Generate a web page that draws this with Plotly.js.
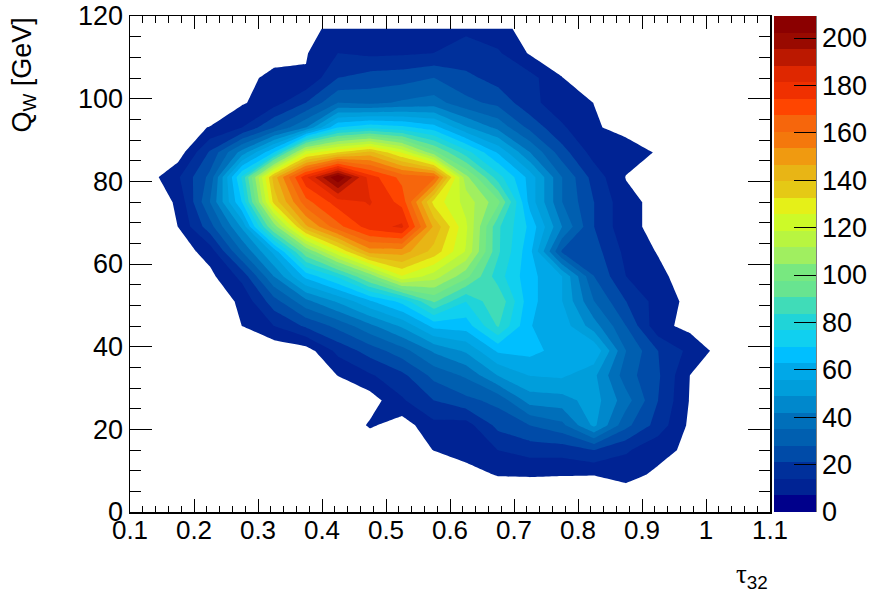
<!DOCTYPE html>
<html>
<head>
<meta charset="utf-8">
<script src="https://cdn.plot.ly/plotly-3.0.1.min.js"></script>
<style>html,body{margin:0;padding:0;background:#fff}</style>
</head>
<body>
<div id="chart" style="width:871px;height:600px"></div>
<script>
// Bin centres of the tau32 axis and the Q_W axis
var tau32 = [0.125,0.175,0.225,0.275,0.325,0.375,0.425,0.475,0.525,0.575,0.625,0.675,0.725,0.775,0.825,0.875,0.925,0.975,1.025,1.075];
var qW = [3,9,15,21,27,33,39,45,51,57,63,69,75,81,87,93,99,105,111,117];

// Counts per Q_W row
var r117 = [0,0,0,0,0,5,9,10,10,11,13,9,4.5,0,0,0,0,0,0,0];
var r111 = [0,0,0,0,2,6.5,14,12.5,13,14,16,15,6.2,3,0,0,0,0,0,0];
var r105 = [0,0,0,3,10.5,7.6,21,24,25,28,23,18,16.5,7.2,2,0,0,0,0,0];
var r99  = [0,0,1,6.2,11,21,35,33,36,38,30,26,16,10,6.9,2,0,0,0,0];
var r93  = [0,4,7.3,14,28,42,70,75,72,66,50,40,26,15,7.7,5,0,0,0,0];
var r87  = [0,3,22,45,70,122,133,142,125,100,80,62,42,24,11,10,6.4,1,0,0];
var r81  = [3,13,30,78,143,180,209,178,165,163,107,80,60,35,18,6.7,2,0,0,0];
var r75  = [2,8,35,70,135,165,178,182,172,130,116,100,60,35,21,9,5,0,0,0];
var r69  = [1,7,25,50,100,145,165,178,183,145,120,85,68,42,21,9,5,0,0,0];
var r63  = [0,3,10,35,58,97,125,150,150,137,118,85,65,27,24,12,6.5,1,0,0];
var r57  = [0,0,5,16,42,65,78,100,125,115,100,80,65,56,28,14,9,3,0,0];
var r51  = [0,0,2,8.5,25,40,50,62,72,92,77,90,65,56,35,21,11,5,0,0];
var r45  = [0,0,0,7,14,22,30,40,50,65,66,84.5,63,60,45,28,9,5,0,0];
var r39  = [0,0,0,0,1.7,3.5,16,24,32,43,50,64,65,60,62,35,21,12,4,0];
var r33  = [0,0,0,0,0,1,7.1,13,19,30,36,49,56,57,50.5,31,22,6.9,1,0];
var r27  = [0,0,0,0,0,0,1,3.5,13,21,26,30,45,46,52,38,21,6.5,0,0];
var r21  = [0,0,0,0,0,0,0,8,3.5,12,11,23,28,33,50.5,30,18,5.5,0,0];
var r15  = [0,0,0,0,0,0,0,0,2,7.2,9,14,17,17,21,15,9,5.6,0,0];
var r9   = [0,0,0,0,0,0,0,0,0,0,5,7.3,7.4,7.2,7.1,9,5.8,2,0,0];
var r3   = [0,0,0,0,0,0,0,0,0,0,0,2,3,3,3,3,1,0,0,0];
var counts = [r3,r9,r15,r21,r27,r33,r39,r45,r51,r57,r63,r69,r75,r81,r87,r93,r99,r105,r111,r117];

// The palette, one colour per contour band, lowest first
var bandColors = ['#00008b','#002394','#00309b','#004ba8','#005fb0','#006fba','#0088cc','#009edb','#00a8e8','#00bfff',
  '#10d0f0','#20d4d8','#40dcb8','#68e490','#78e880','#a0ef60','#b8f540','#cdfa28','#e5f018','#e5c915',
  '#e8b515','#f09a10','#f4780c','#f6660c','#ff4500','#f03000','#df2700','#bb1800','#990a00','#8b0000'];
var zTop = 209.3;
var bandSize = zTop / bandColors.length;

// Contour fills: the region below the first level stays white
var fillScale = bandColors.map(function (c, i) {
  return [i / (bandColors.length - 1), i === 0 ? '#ffffff' : c];
});
// Colour bar: one flat step per band
var barScale = [];
bandColors.forEach(function (c, i) {
  barScale.push([i / bandColors.length, c]);
  barScale.push([(i + 1) / bandColors.length, c]);
});

var tickFont = {family: 'Liberation Sans, Arial, sans-serif', size: 27, color: '#000'};

var traces = [
  {
    type: 'contour', x: tau32, y: qW, z: counts, showscale: false, hoverinfo: 'skip',
    autocontour: false, colorscale: fillScale,
    contours: {coloring: 'fill', start: bandSize, end: bandSize * (bandColors.length - 1), size: bandSize, showlines: false},
    line: {width: 0, smoothing: 0}
  },
  {
    type: 'heatmap', x: [-1, -0.9], y: [-10, -9], z: [[0, zTop], [zTop, 0]], zmin: 0, zmax: zTop,
    colorscale: barScale, hoverinfo: 'skip',
    colorbar: {
      x: 644 / 640, xanchor: 'left', xpad: 0, y: 0, yanchor: 'bottom', ypad: 0,
      thickness: 42, thicknessmode: 'pixels', len: 496, lenmode: 'pixels',
      outlinewidth: 0, borderwidth: 0, tick0: 0, dtick: 20, ticks: 'inside', ticklen: 22, tickwidth: 1,
      tickcolor: '#000', tickfont: tickFont, ticklabelposition: 'outside'
    }
  }
];

var layout = {
  width: 871, height: 600, autosize: false, showlegend: false,
  margin: {l: 130, r: 101, t: 16, b: 88, pad: 0, autoexpand: false},
  paper_bgcolor: '#fff', plot_bgcolor: '#fff',
  font: {family: 'Liberation Sans, Arial, sans-serif', color: '#000'},
  xaxis: {
    range: [0.1, 1.1], ticks: 'inside', ticklen: 13, tickwidth: 1, tickcolor: '#000', ticklabelstandoff: -6,
    showgrid: false, zeroline: false, showline: true, linecolor: '#000', linewidth: 1.5, mirror: 'allticks',
    minor: {dtick: 0.02, tick0: 0.1, ticks: 'inside', ticklen: 6.5, tickwidth: 1, tickcolor: '#000', showgrid: false},
    tickfont: {family: tickFont.family, size: 26, color: '#000'}, tickvals: [0.1,0.2,0.3,0.4,0.5,0.6,0.7,0.8,0.9,1,1.1], ticktext: ['0.1','0.2','0.3','0.4','0.5','0.6','0.7','0.8','0.9','1','1.1']
  },
  yaxis: {
    range: [0, 120], tick0: 0, dtick: 20, ticks: 'inside', ticklen: 22, tickwidth: 1, tickcolor: '#000',
    showgrid: false, zeroline: false, showline: true, linecolor: '#000', linewidth: 1.5, mirror: 'allticks',
    minor: {dtick: 5, tick0: 0, ticks: 'inside', ticklen: 11, tickwidth: 1, tickcolor: '#000', showgrid: false},
    tickfont: tickFont
  },
  shapes: [{type: 'line', xref: 'paper', yref: 'paper', x0: 686 / 640, x1: 686 / 640, y0: 0, y1: 1, line: {color: '#000', width: 1}}],
  annotations: [
    {xref: 'paper', yref: 'paper', x: -0.167, y: 1, xanchor: 'center', yanchor: 'top', textangle: -90, showarrow: false,
     text: 'Q<sub>W</sub> [GeV]', font: {family: tickFont.family, size: 27, color: '#000'}},
    {xref: 'paper', yref: 'paper', x: 1, y: -0.13, xanchor: 'right', yanchor: 'middle', showarrow: false,
     text: '<span style="font-family:Liberation Serif">τ</span><sub>32</sub>', font: {family: tickFont.family, size: 27, color: '#000'}}
  ]
};

Plotly.newPlot('chart', traces, layout, {staticPlot: true, displayModeBar: false});
</script>
</body>
</html>
